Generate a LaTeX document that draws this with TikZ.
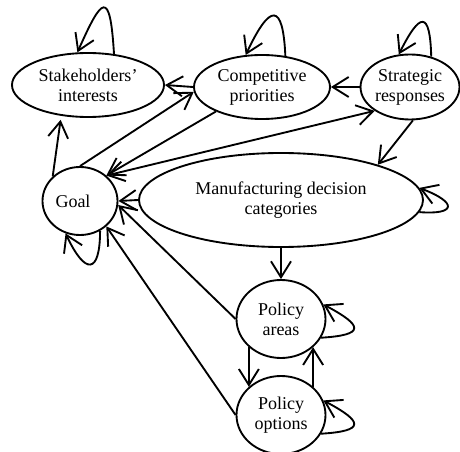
\documentclass[tikz,border=0pt]{standalone}
\usepackage{fontspec}
\setmainfont{Liberation Serif}
\usetikzlibrary{shapes.geometric,arrows.meta}
\begin{document}
\begin{tikzpicture}[x=0.75pt,y=-0.75pt,
  every node/.style={font=\fontsize{13.5}{15}\selectfont},
  state/.style={draw, ellipse, line width=1.4pt, inner sep=0pt, align=center},
  barb/.tip={Straight Barb[length=12pt,width=15pt]},
  link/.style={line width=1.4pt, -barb},
  duallink/.style={line width=1.4pt, barb-barb}]
\useasboundingbox (0,0) rectangle (460,452);

% factors
\node[state, minimum width=114pt, minimum height=48pt] (sh) at (88,85) {Stakeholders'\\interests};
\node[state, minimum width=102pt, minimum height=48pt] (cp) at (262,87) {Competitive\\priorities};
\node[state, minimum width=73.5pt, minimum height=48.75pt] (sr) at (410,87) {Strategic\\responses};
\node[state, minimum width=56.25pt, minimum height=51pt] (goal) at (80,201) {Goal\hspace*{10.5pt}};
\node[state, minimum width=213pt, minimum height=70.5pt] (mdc) at (281,200) {Manufacturing decision\\categories};
\node[state, minimum width=66.75pt, minimum height=58.5pt] (pa) at (281,319) {Policy\\areas};
\node[state, minimum width=66.75pt, minimum height=58.5pt] (po) at (281,415) {Policy\\options};

% influences between factors
\draw[link] (cp.west) -- (sh.east);
\draw[link] (goal.north) -- (cp.184);
\draw[link] (cp.208) -- (goal.44);
\draw[duallink] (goal.44) -- (sr.214);
\draw[link] (sr.west) -- (cp.east);
\draw[link] (sr.275) -- (mdc.20);
\draw[link] (mdc.west) -- (goal.east);
\draw[link] (pa.180) -- (goal.-6);
\draw[link] (po.west) -- (goal.-44);
\draw[link, shorten >=3pt] (goal.138) -- (sh.229);
\draw[link] (mdc.south) -- (pa.north);
\draw[link] (pa.south west) -- (po.north west);
\draw[link] (po.north east) -- (pa.south east);

% self-reinforcing loops
\draw[link] (sh.50) .. controls (110,-12) and (102,-3) .. (sh.108);
\draw[link] (cp.53) .. controls (283,2) and (270,3) .. (cp.117);
\draw[link] (sr.55) .. controls (430,10) and (420,12) .. (sr.109);
\draw[link] (goal.304) .. controls (100,275) and (85,275) .. (goal.246);
\draw[link] (mdc.-5) .. controls (455,215) and (459,203) .. (mdc.5);
\draw[link] (pa.-25) .. controls (365,335) and (364,326) .. (pa.19);
\draw[link] (po.-25) .. controls (365,431) and (364,422) .. (po.19);
\end{tikzpicture}
\end{document}
